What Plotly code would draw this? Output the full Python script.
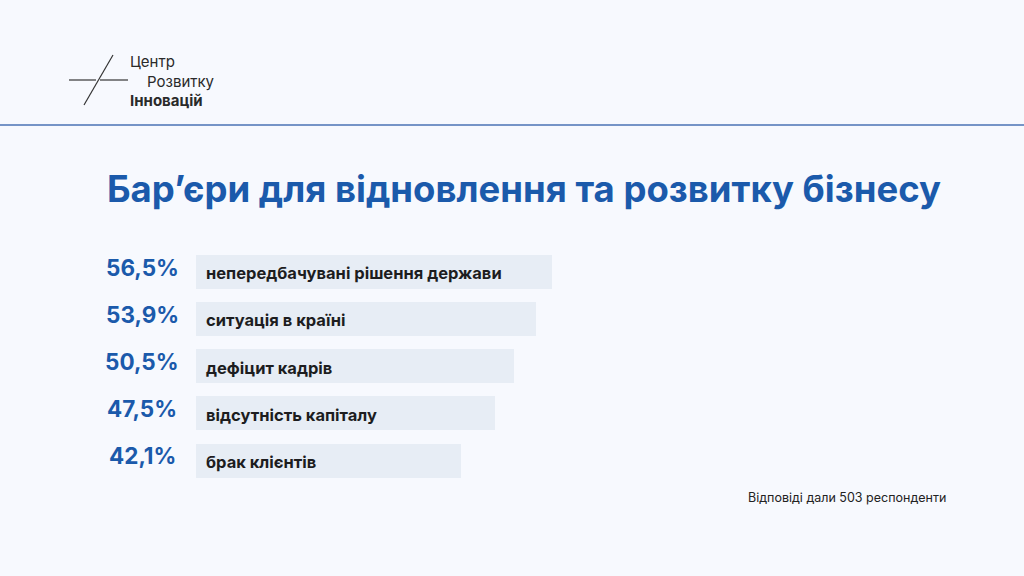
import plotly.graph_objects as go

# data
barriers = ["непередбачувані рішення держави", "ситуація в країні", "дефіцит кадрів",
            "відсутність капіталу", "брак клієнтів"]
shares = [56.5, 53.9, 50.5, 47.5, 42.1]
share_labels = ["56,5%", "53,9%", "50,5%", "47,5%", "42,1%"]

title_text = "Барʼєри для відновлення та розвитку бізнесу"
note_text = "Відповіді дали 503 респонденти"
logo_lines = ["Центр", "Розвитку", "Інновацій"]

W, H = 1024, 576
BG = "#f7f9fe"
BLUE = "#1b5aab"
BAR = "#e7edf5"


def px(x):
    return x / W


def py(y):
    return 1 - y / H


fig = go.Figure()

fig.add_trace(go.Bar(
    x=shares,
    y=list(range(len(barriers))),
    orientation="h",
    width=0.72,
    marker=dict(color=BAR, line=dict(width=0)),
    hoverinfo="skip",
))

# category text inside bars
for i, name in enumerate(barriers):
    fig.add_annotation(x=0, y=i, xref="x", yref="y", text="<b>" + name + "</b>",
                       showarrow=False, xanchor="left", yanchor="middle", xshift=8, yshift=-1,
                       font=dict(family="Inter", size=16.5, color="#1d1d1f"))

# percentage labels left of bars
for i, lab in enumerate(share_labels):
    fig.add_annotation(x=px(142), y=i, xref="paper", yref="y", text="<b>" + lab + "</b>",
                       showarrow=False, xanchor="center", yanchor="middle", yshift=5,
                       font=dict(family="Inter", size=22.5, color=BLUE))

# header separator line
fig.add_shape(type="line", xref="paper", yref="paper", x0=0, x1=1, y0=py(125), y1=py(125),
              line=dict(color="#4a72b5", width=1.5))

# logo marks
fig.add_shape(type="line", xref="paper", yref="paper", x0=px(113), y0=py(55), x1=px(84), y1=py(105),
              line=dict(color="#333333", width=1.2))
fig.add_shape(type="line", xref="paper", yref="paper", x0=px(69), y0=py(80), x1=px(96), y1=py(80),
              line=dict(color="#333333", width=1.2))
fig.add_shape(type="line", xref="paper", yref="paper", x0=px(100), y0=py(80), x1=px(128), y1=py(80),
              line=dict(color="#333333", width=1.2))

logo_pos = [(128, 62), (145, 81), (128, 100)]
for k, (t, (lx, ly)) in enumerate(zip(logo_lines, logo_pos)):
    txt = "<b>" + t + "</b>" if k == 2 else t
    fig.add_annotation(x=px(lx), y=py(ly), xref="paper", yref="paper", text=txt,
                       showarrow=False, xanchor="left", yanchor="middle",
                       font=dict(family="Inter", size=15, color="#2a2a2a"))

# title
fig.add_annotation(x=px(524), y=py(189), xref="paper", yref="paper", text="<b>" + title_text + "</b>",
                   showarrow=False, xanchor="center", yanchor="middle",
                   font=dict(family="Inter", size=36.5, color=BLUE))

# footnote
fig.add_annotation(x=px(948), y=py(497), xref="paper", yref="paper", text=note_text,
                   showarrow=False, xanchor="right", yanchor="middle",
                   font=dict(family="Inter", size=12.5, color="#222222"))

fig.update_layout(
    width=W, height=H,
    margin=dict(l=0, r=0, t=0, b=0),
    paper_bgcolor=BG, plot_bgcolor=BG,
    showlegend=False,
    bargap=0,
    xaxis=dict(domain=[px(196), px(946)], range=[0, 750 / 6.3], visible=False, fixedrange=True),
    yaxis=dict(domain=[py(484.6), py(248.4)], range=[4.5, -0.5], visible=False, fixedrange=True),
)

fig.write_html("out.html", config={"displayModeBar": False},
               post_script="document.body.style.margin='0px';document.body.style.background='" + BG + "';")
